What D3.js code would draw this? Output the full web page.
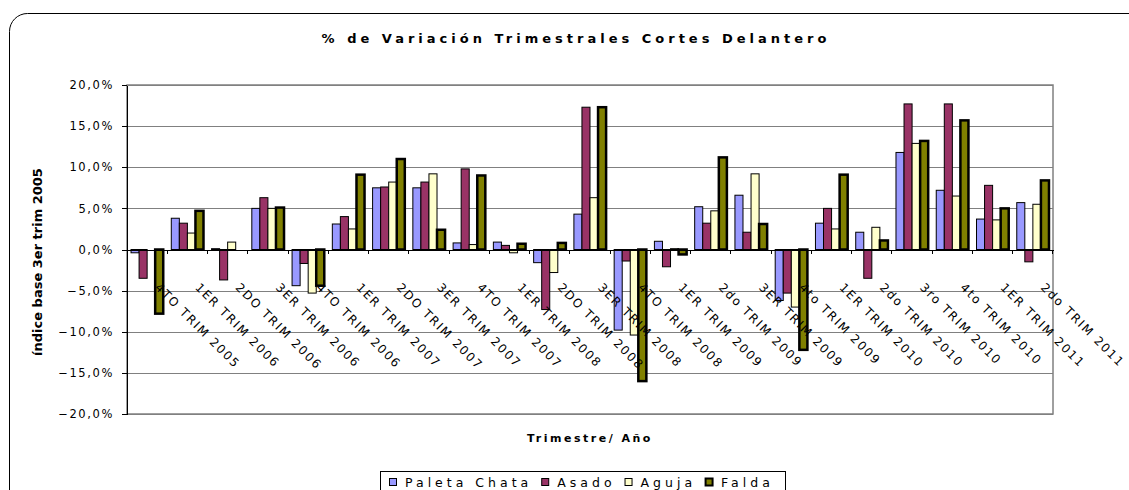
<!DOCTYPE html>
<html lang="es">
<head>
<meta charset="utf-8">
<title>% de Variación Trimestrales Cortes Delantero</title>
<script src="https://cdnjs.cloudflare.com/ajax/libs/d3/7.8.5/d3.min.js"></script>
<style>
body { margin: 0; background: #fff; }
svg text { font-family: "DejaVu Sans", Verdana, sans-serif; fill: #000; }
.axis path, .axis line { fill: none; stroke: #000; shape-rendering: crispEdges; }
.grid line { stroke: #808080; shape-rendering: crispEdges; }
</style>
</head>
<body>
<script>
// datos
var categories = ["4TO TRIM 2005", "1ER TRIM 2006", "2DO TRIM 2006", "3ER TRIM 2006", "4TO TRIM 2006",
  "1ER TRIM 2007", "2DO TRIM 2007", "3ER TRIM 2007", "4TO TRIM 2007", "1ER TRIM 2008", "2DO TRIM 2008",
  "3ER TRIM 2008", "4TO TRIM 2008", "1ER TRIM 2009", "2do TRIM 2009", "3ER TRIM 2009", "4to TRIM 2009",
  "1ER TRIM 2010", "2do TRIM 2010", "3ro TRIM 2010", "4to TRIM 2010", "1ER TRIM 2011", "2do TRIM 2011"];
var seriesNames = ["Paleta Chata", "Asado", "Aguja", "Falda"];
var paleta = [-0.4, 3.8, 0.1, 5.0, -4.4, 3.1, 7.5, 7.5, 0.8, 0.9, -1.6, 4.3, -9.8, 1.0, 5.2, 6.6, -6.2, 3.2, 2.1, 11.8, 7.2, 3.7, 5.7];
var asado = [-3.5, 3.2, -3.7, 6.3, -1.7, 4.0, 7.6, 8.2, 9.8, 0.5, -7.3, 17.3, -1.4, -2.1, 3.2, 2.1, -5.3, 5.0, -3.5, 17.7, 17.7, 7.8, -1.5];
var aguja = [0, 2.0, 0.9, 5.0, -5.3, 2.5, 8.2, 9.2, 0.6, -0.4, -2.8, 6.3, -10.4, 0.1, 4.7, 9.2, -7.0, 2.5, 2.7, 12.9, 6.5, 3.6, 5.5];
var falda = [-7.8, 4.7, 0, 5.1, -4.4, 9.1, 11.0, 2.4, 9.0, 0.7, 0.8, 17.3, -16.0, -0.6, 11.2, 3.1, -12.2, 9.1, 1.1, 13.2, 15.7, 5.0, 8.4];
var yTicks = [-20, -15, -10, -5, 0, 5, 10, 15, 20];

var seriesValues = [paleta, asado, aguja, falda];
var colors = ["#9999FF", "#993366", "#FFFFCC", "#808000"];
var strokeW = [1, 1, 1, 2.5];

var w = 1129, h = 490;
var pLeft = 127, pRight = 1053, pTop = 85, pBottom = 414;

var loc = d3.formatLocale({decimal: ",", thousands: ".", grouping: [3], currency: ["", ""]});
var fmt = loc.format(".1f");

var svg = d3.select("body").append("svg")
  .attr("width", w)
  .attr("height", h);

// marco exterior redondeado
svg.append("rect")
  .attr("x", 9.5).attr("y", 13.5)
  .attr("width", 1140).attr("height", 500)
  .attr("rx", 18).attr("ry", 18)
  .attr("fill", "none").attr("stroke", "#000").attr("stroke-width", 1);

var x0 = d3.scaleBand()
  .domain(categories)
  .range([pLeft, pRight])
  .paddingInner(0.2)
  .paddingOuter(0.1);

var x1 = d3.scaleBand()
  .domain(seriesNames)
  .range([0, x0.bandwidth()]);

var y = d3.scaleLinear()
  .domain([-20, 20])
  .range([pBottom, pTop]);

// borde del area de grafico
svg.append("rect")
  .attr("x", pLeft).attr("y", pTop)
  .attr("width", pRight - pLeft).attr("height", pBottom - pTop)
  .attr("fill", "none").attr("stroke", "#808080").attr("stroke-width", 1.5);

// lineas de division
svg.append("g")
  .attr("class", "grid")
  .selectAll("line")
  .data(yTicks)
  .enter().append("line")
  .attr("x1", pLeft).attr("x2", pRight)
  .attr("y1", function(d) { return Math.round(y(d)) + 0.5; })
  .attr("y2", function(d) { return Math.round(y(d)) + 0.5; });

// barras
var series = svg.selectAll("g.serie")
  .data(seriesNames)
  .enter().append("g")
  .attr("class", "serie");

series.each(function(name, si) {
  d3.select(this).selectAll("rect")
    .data(seriesValues[si])
    .enter().append("rect")
    .attr("x", function(d, i) { return x0(categories[i]) + x1(name); })
    .attr("y", function(d) { return Math.min(y(d), y(0)); })
    .attr("width", x1.bandwidth())
    .attr("height", function(d) { return Math.abs(y(d) - y(0)); })
    .attr("fill", colors[si])
    .attr("stroke", "#000")
    .attr("stroke-width", strokeW[si]);
});

// eje y
var yAxis = d3.axisLeft(y)
  .tickValues(yTicks)
  .tickSize(5)
  .tickSizeOuter(0)
  .tickFormat(function(d) { return fmt(d) + "%"; });

var gy = svg.append("g")
  .attr("class", "axis")
  .attr("transform", "translate(" + pLeft + ",0)")
  .call(yAxis);
gy.selectAll("text")
  .attr("x", -13)
  .style("font-size", "11.5px")
  .style("letter-spacing", "1.6px");

// eje x
var xAxis = d3.axisBottom(x0)
  .tickSize(4)
  .tickSizeOuter(0);

var gx = svg.append("g")
  .attr("class", "axis")
  .attr("transform", "translate(0," + y(0) + ")")
  .call(xAxis);
gx.selectAll(".tick line")
  .attr("x1", x0.step() / 2)
  .attr("x2", x0.step() / 2);
gx.selectAll(".tick text")
  .attr("x", 0).attr("y", 0).attr("dy", "0.8em")
  .attr("transform", "translate(14,32) rotate(45)")
  .style("text-anchor", "start")
  .style("font-size", "12px")
  .style("letter-spacing", "1.7px");

// titulos
svg.append("text")
  .attr("x", 576).attr("y", 43)
  .attr("text-anchor", "middle")
  .style("font-weight", "bold")
  .style("font-size", "13px")
  .style("letter-spacing", "4px")
  .text("% de Variación Trimestrales Cortes Delantero");

svg.append("text")
  .attr("transform", "translate(42,262) rotate(-90)")
  .attr("text-anchor", "middle")
  .style("font-weight", "bold")
  .style("font-size", "13px")
  .text("índice base 3er trim 2005");

svg.append("text")
  .attr("x", (pLeft + pRight) / 2).attr("y", 442)
  .attr("text-anchor", "middle")
  .style("font-weight", "bold")
  .style("font-size", "11px")
  .style("letter-spacing", "2.5px")
  .text("Trimestre/ Año");

// leyenda
var legend = svg.append("g");
legend.append("rect")
  .attr("x", 380.5).attr("y", 471.5)
  .attr("width", 405).attr("height", 40)
  .attr("fill", "#fff").attr("stroke", "#000");

var lx = 389;
seriesNames.forEach(function(name, i) {
  legend.append("rect")
    .attr("x", lx + 0.5).attr("y", 478.5)
    .attr("width", 7).attr("height", 7)
    .attr("fill", colors[i]).attr("stroke", "#000").attr("stroke-width", i === 3 ? 2 : 1);
  var t = legend.append("text")
    .attr("x", lx + 16).attr("y", 487)
    .style("font-size", "12.5px")
    .style("letter-spacing", "4px")
    .text(name);
  lx += 16 + t.node().getComputedTextLength() + 9;
});
</script>
</body>
</html>
